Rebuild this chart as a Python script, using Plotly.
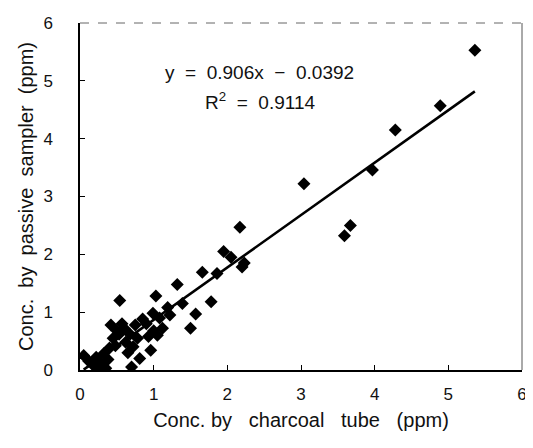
import plotly.graph_objects as go

# Data
x_charcoal = [0.05, 0.12, 0.18, 0.22, 0.25, 0.28, 0.32, 0.35, 0.38, 0.40,
              0.42, 0.45, 0.48, 0.50, 0.53, 0.54, 0.57, 0.60, 0.62, 0.65,
              0.68, 0.70, 0.72, 0.75, 0.78, 0.81, 0.85, 0.90, 0.93, 0.96,
              1.00, 1.03, 1.05, 1.08, 1.12, 1.19, 1.22, 1.32, 1.39, 1.50,
              1.57, 1.66, 1.78, 1.86, 1.95, 2.05, 2.17, 2.20, 2.23, 3.04,
              3.59, 3.67, 3.97, 4.28, 4.89, 5.36, 0.99]
y_passive = [0.25, 0.15, 0.08, 0.22, 0.02, 0.12, 0.28, 0.03, 0.18, 0.38,
             0.78, 0.55, 0.42, 0.68, 0.62, 1.20, 0.80, 0.72, 0.48, 0.30,
             0.62, 0.05, 0.40, 0.78, 0.55, 0.20, 0.88, 0.80, 0.58, 0.34,
             0.68, 1.28, 0.60, 0.90, 0.72, 1.08, 0.95, 1.48, 1.15, 0.72,
             0.97, 1.69, 1.18, 1.67, 2.05, 1.95, 2.47, 1.78, 1.85, 3.22,
             2.32, 2.50, 3.46, 4.15, 4.57, 5.53, 0.98]

slope = 0.906
intercept = -0.0392
r_squared = 0.9114

tick_vals = [0, 1, 2, 3, 4, 5, 6]

x_fit = [min(x_charcoal), max(x_charcoal)]
y_fit = [slope * v + intercept for v in x_fit]

FONT = "Liberation Sans, Arial, sans-serif"
NB = "\u00a0"

fig = go.Figure()
fig.add_trace(go.Scatter(
    x=x_charcoal, y=y_passive, mode="markers",
    marker=dict(symbol="diamond", size=10, color="black"),
    showlegend=False, hoverinfo="x+y"))
fig.add_trace(go.Scatter(
    x=x_fit, y=y_fit, mode="lines",
    line=dict(color="black", width=2.6),
    showlegend=False, hoverinfo="skip"))

fig.add_annotation(
    x=2.43, y=5.15, xref="x", yref="y", showarrow=False,
    text=f"y{NB*2}={NB*2}0.906x{NB*2}\u2212{NB*2}0.0392",
    font=dict(family=FONT, size=19, color="#111"))
fig.add_annotation(
    x=2.44, y=4.66, xref="x", yref="y", showarrow=False,
    text=f"R<sup>2</sup>{NB*2}={NB*2}{r_squared:.4f}",
    font=dict(family=FONT, size=19, color="#111"))

# scanned-looking top and right frame
fig.add_shape(type="line", xref="paper", yref="paper", x0=0, x1=1, y0=1, y1=1,
              line=dict(color="#666", width=1, dash="dash"))
fig.add_shape(type="line", xref="paper", yref="paper", x0=1, x1=1, y0=0, y1=1,
              line=dict(color="#555", width=1))

fig.update_layout(
    width=525, height=440,
    margin=dict(l=72, r=6, t=12, b=78),
    paper_bgcolor="white", plot_bgcolor="white",
    font=dict(family=FONT, color="#111"),
    xaxis=dict(
        range=[0, 6], tickvals=tick_vals, ticktext=[str(v) for v in tick_vals],
        showgrid=False, zeroline=False, showline=True, linecolor="black", linewidth=1.5,
        ticks="inside", ticklen=5, tickcolor="black",
        tickfont=dict(family=FONT, size=17, color="#111"),
        ticklabelstandoff=8,
        title=dict(text=f"Conc.{NB}by{NB*3}charcoal{NB*3}tube{NB*3}(ppm)",
                   font=dict(family=FONT, size=20, color="#111"), standoff=10)),
    yaxis=dict(
        range=[0, 6], tickvals=tick_vals, ticktext=[str(v) for v in tick_vals],
        showgrid=False, zeroline=False, showline=True, linecolor="black", linewidth=1.5,
        ticks="inside", ticklen=5, tickcolor="black",
        tickfont=dict(family=FONT, size=17, color="#111"),
        ticklabelstandoff=22,
        title=dict(text=f"Conc.{NB*2}by{NB*2}passive{NB*2}sampler{NB*2}(ppm)",
                   font=dict(family=FONT, size=20, color="#111"), standoff=4)),
)

fig.write_html("out.html")
